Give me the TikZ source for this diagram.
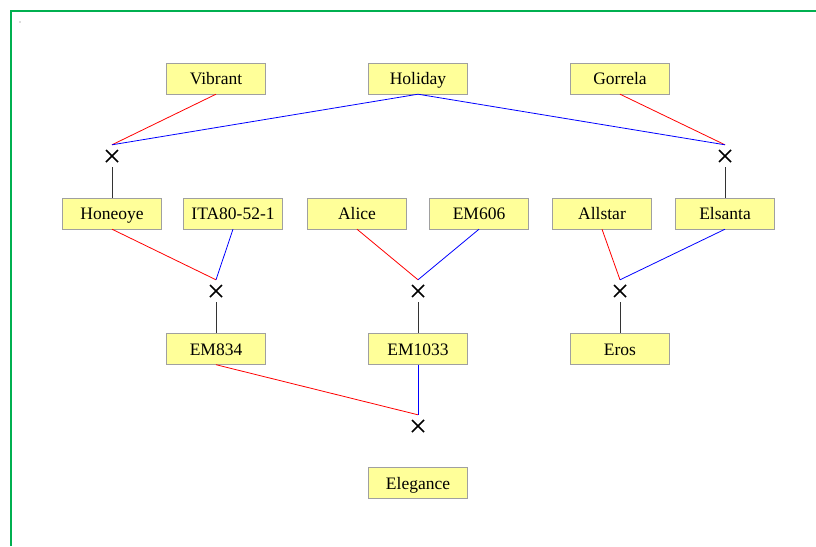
\documentclass[tikz,border=0pt]{standalone}
\usepackage{fontspec}
\setmainfont{Liberation Serif}
\definecolor{boxfill}{HTML}{FFFF99}
\definecolor{boxline}{HTML}{A0A0A0}
\definecolor{framegreen}{HTML}{00B050}
\tikzset{
  plant/.style={draw=boxline,fill=boxfill,minimum width=99pt,minimum height=31pt,inner sep=0pt,text height=14pt,text depth=2pt,font=\fontsize{17.5}{21}\selectfont},
  xmark/.style={minimum size=22pt,inner sep=0pt,path picture={
    \draw[line width=1.5pt] ([xshift=-6pt,yshift=-6pt]path picture bounding box.center) -- ++(12pt,12pt);
    \draw[line width=1.5pt] ([xshift=-6pt,yshift=6pt]path picture bounding box.center) -- ++(12pt,-12pt);}},
  mother/.style={red,line width=0.8pt},
  father/.style={blue,line width=0.8pt},
  child/.style={black!80,line width=0.8pt}
}
\begin{document}
\begin{tikzpicture}[x=1pt,y=-1pt]
  \useasboundingbox (0,0) rectangle (816,546);
  \draw[framegreen,line width=2pt] (11,546) -- (11,11) -- (816,11);
  \fill[black!60] (20,22) circle (0.6pt);
  % Parents
  \node[plant] (vibrant) at (216,78.5) {Vibrant};
  \node[plant] (holiday) at (418,78.5) {Holiday};
  \node[plant] (gorrela) at (620,78.5) {Gorrela};
  \node[xmark] (c1) at (112,156) {};
  \node[xmark] (c2) at (725,156) {};
  % Second row
  \node[plant] (honeoye) at (112,213.5) {Honeoye};
  \node[plant] (ita) at (233,213.5) {ITA80-52-1};
  \node[plant] (alice) at (357,213.5) {Alice};
  \node[plant] (em606) at (479,213.5) {EM606};
  \node[plant] (allstar) at (602,213.5) {Allstar};
  \node[plant] (elsanta) at (725,213.5) {Elsanta};
  \node[xmark] (c3) at (216,291) {};
  \node[xmark] (c4) at (418,291) {};
  \node[xmark] (c5) at (620,291) {};
  % Third row
  \node[plant] (em834) at (216,349) {EM834};
  \node[plant] (em1033) at (418,349) {EM1033};
  \node[plant] (eros) at (620,349) {Eros};
  \node[xmark] (c6) at (418,426) {};
  \node[plant] (elegance) at (418,483) {Elegance};
  % Crossings
  \draw[mother] (vibrant.south) -- (c1.north);
  \draw[father] (holiday.south) -- (c1.north);
  \draw[mother] (gorrela.south) -- (c2.north);
  \draw[father] (holiday.south) -- (c2.north);
  \draw[child] (c1.south) -- (honeoye.north);
  \draw[child] (c2.south) -- (elsanta.north);
  \draw[mother] (honeoye.south) -- (c3.north);
  \draw[father] (ita.south) -- (c3.north);
  \draw[mother] (alice.south) -- (c4.north);
  \draw[father] (em606.south) -- (c4.north);
  \draw[mother] (allstar.south) -- (c5.north);
  \draw[father] (elsanta.south) -- (c5.north);
  \draw[child] (c3.south) -- (em834.north);
  \draw[child] (c4.south) -- (em1033.north);
  \draw[child] (c5.south) -- (eros.north);
  \draw[mother] (em834.south) -- (c6.north);
  \draw[father] (em1033.south) -- (c6.north);
\end{tikzpicture}
\end{document}
